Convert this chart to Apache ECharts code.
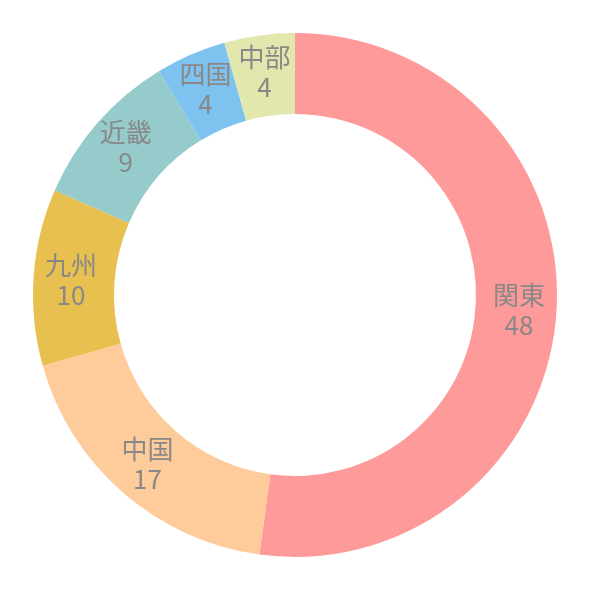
<!DOCTYPE html>
<html><head><meta charset="utf-8">
<script src="https://cdn.jsdelivr.net/npm/echarts@6/dist/echarts.min.js"></script>
<style>html,body{margin:0;padding:0;background:#fff}#c{width:590px;height:590px}</style>
</head><body><div id="c"></div>
<script>
const categories = ['関東','中国','九州','近畿','四国','中部'];
const values = [48,17,10,9,4,4];
const colors = ['#fe9a9a','#fecb9b','#e8c04f','#96cbcb','#7ec3ef','#e2e7ad'];
const chart = echarts.init(document.getElementById('c'));
chart.setOption({
  animation:false,
  series:[{
    type:'pie', center:[295,295], radius:[181,262], startAngle:90, clockwise:true,
    data: categories.map((n,i)=>({name:n,value:values[i],itemStyle:{color:colors[i]}})),
    label:{position:'inside', formatter:'{b}\n{c}', color:'#888', fontSize:26, lineHeight:30,
      fontFamily:'"Noto Sans CJK JP","DejaVu Sans Condensed",sans-serif'},
    labelLine:{show:false}
  }]
});
</script></body></html>
